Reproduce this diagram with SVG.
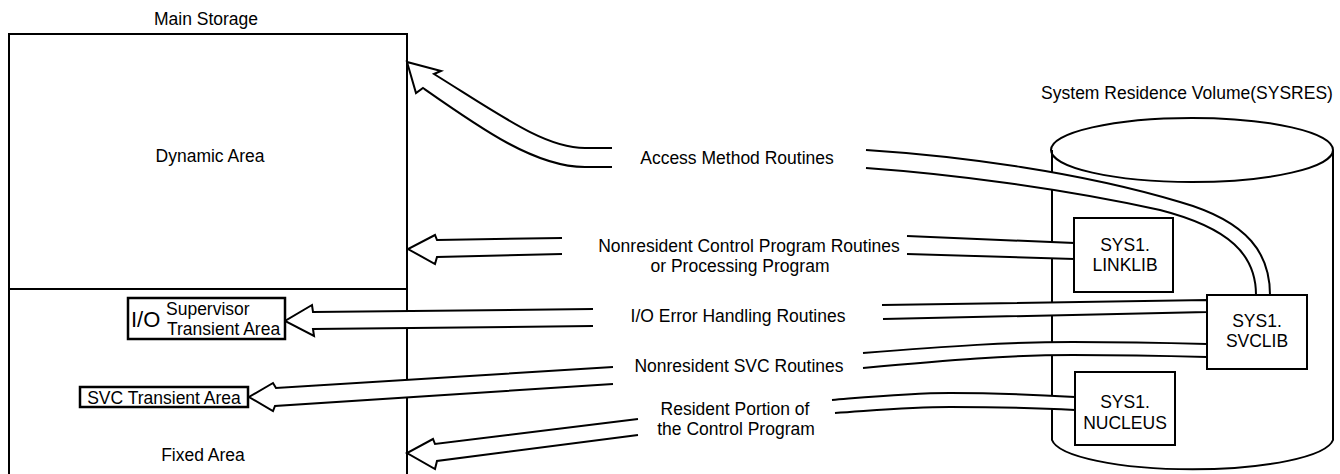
<svg xmlns="http://www.w3.org/2000/svg" width="1340" height="474" viewBox="0 0 1340 474">
<style>
text{font-family:"Liberation Sans",Arial,sans-serif;font-size:17.5px;fill:#000}
.m{text-anchor:middle}
.ln{fill:none;stroke:#000;stroke-width:2;stroke-linejoin:miter}
.box{fill:#fff;stroke:#000;stroke-width:2}
.tbox{fill:#fff;stroke:#000;stroke-width:2.5}
.band{fill:#fff;stroke:#000;stroke-width:2;stroke-linejoin:miter}
</style>
<g id="sysres">
<path class="ln" d="M1052,150 V440 A141,32 0 0 0 1333,440 V150"/>
<ellipse class="ln" cx="1192" cy="150" rx="141" ry="32"/>
<text class="m" x="1187" y="99">System Residence Volume(SYSRES)</text>
</g>
<g id="main-storage">
<path class="ln" d="M9,474 V34 H407 V474 M9,289 H407"/>
<text class="m" x="206" y="25">Main Storage</text>
<text class="m" x="210" y="162">Dynamic Area</text>
<text class="m" x="203" y="461">Fixed Area</text>
</g>
<g id="connectors">
<path class="band" d="M612,148 L585,148 C545,148 500,115 434,74 L441,71 L407,62 L416,93 L423,88 C480,128 535,167 585,167 L612,167"/>
<path class="band" d="M866,150 C960,156 1080,172 1180,202 C1250,222 1270,255 1270,295 L1256,295 C1256,255 1230,228 1160,210 C1060,188 950,174 866,168"/>
<path class="band" d="M562,238 L437,240 L435,235 L408,249 L435,264 L437,257 L562,254"/>
<path class="band" d="M907,236 L1074,243 L1074,259 L907,254"/>
<path class="band" d="M593,309 L313,312 L312,305 L285,321 L314,336 L313,329 L593,326"/>
<path class="band" d="M882,305 L1207,300 L1207,312 L883,319"/>
<path class="band" d="M613,367 L276,388 L273,383 L249,397 L273,411 L275,406 L613,384"/>
<path class="band" d="M863,353 C950,346 1010,342 1073,342 C1130,342 1170,343 1207,344 L1207,357 C1170,356 1130,355 1073,355 C1010,355 950,360 863,368"/>
<path class="band" d="M638,419 L435,444 L433,439 L407,453 L435,469 L437,461 L638,435"/>
<path class="band" d="M832,400 C880,396 910,393 950,393 C1000,393 1040,395 1075,397 L1075,410 C1040,408 1000,407 950,407 C910,407 880,410 835,413"/>
</g>
<g id="io-supervisor">
<rect class="tbox" x="128" y="298" width="157" height="41"/>
<text x="131" y="327" style="font-size:22px">I/O</text>
<text x="166" y="315">Supervisor</text>
<text x="167" y="335">Transient Area</text>
</g>
<g id="svc-transient">
<rect class="tbox" x="80" y="387" width="168" height="20"/>
<text class="m" x="164" y="404">SVC Transient Area</text>
</g>
<g id="linklib">
<rect class="box" x="1074" y="218" width="99" height="74"/>
<text class="m" x="1125" y="251">SYS1.</text>
<text class="m" x="1125" y="271">LINKLIB</text>
</g>
<g id="svclib">
<rect class="box" x="1207" y="295" width="100" height="74"/>
<text class="m" x="1257" y="327">SYS1.</text>
<text class="m" x="1257" y="347">SVCLIB</text>
</g>
<g id="nucleus">
<rect class="box" x="1075" y="372" width="100" height="73"/>
<text class="m" x="1125" y="408">SYS1.</text>
<text class="m" x="1125" y="429">NUCLEUS</text>
</g>
<g id="labels">
<text class="m" x="737" y="164">Access Method Routines</text>
<text class="m" x="749" y="252">Nonresident Control Program Routines</text>
<text class="m" x="740" y="272">or Processing Program</text>
<text class="m" x="738" y="322">I/O Error Handling Routines</text>
<text class="m" x="739" y="372">Nonresident SVC Routines</text>
<text class="m" x="735" y="415">Resident Portion of</text>
<text class="m" x="736" y="435">the Control Program</text>
</g>
</svg>
